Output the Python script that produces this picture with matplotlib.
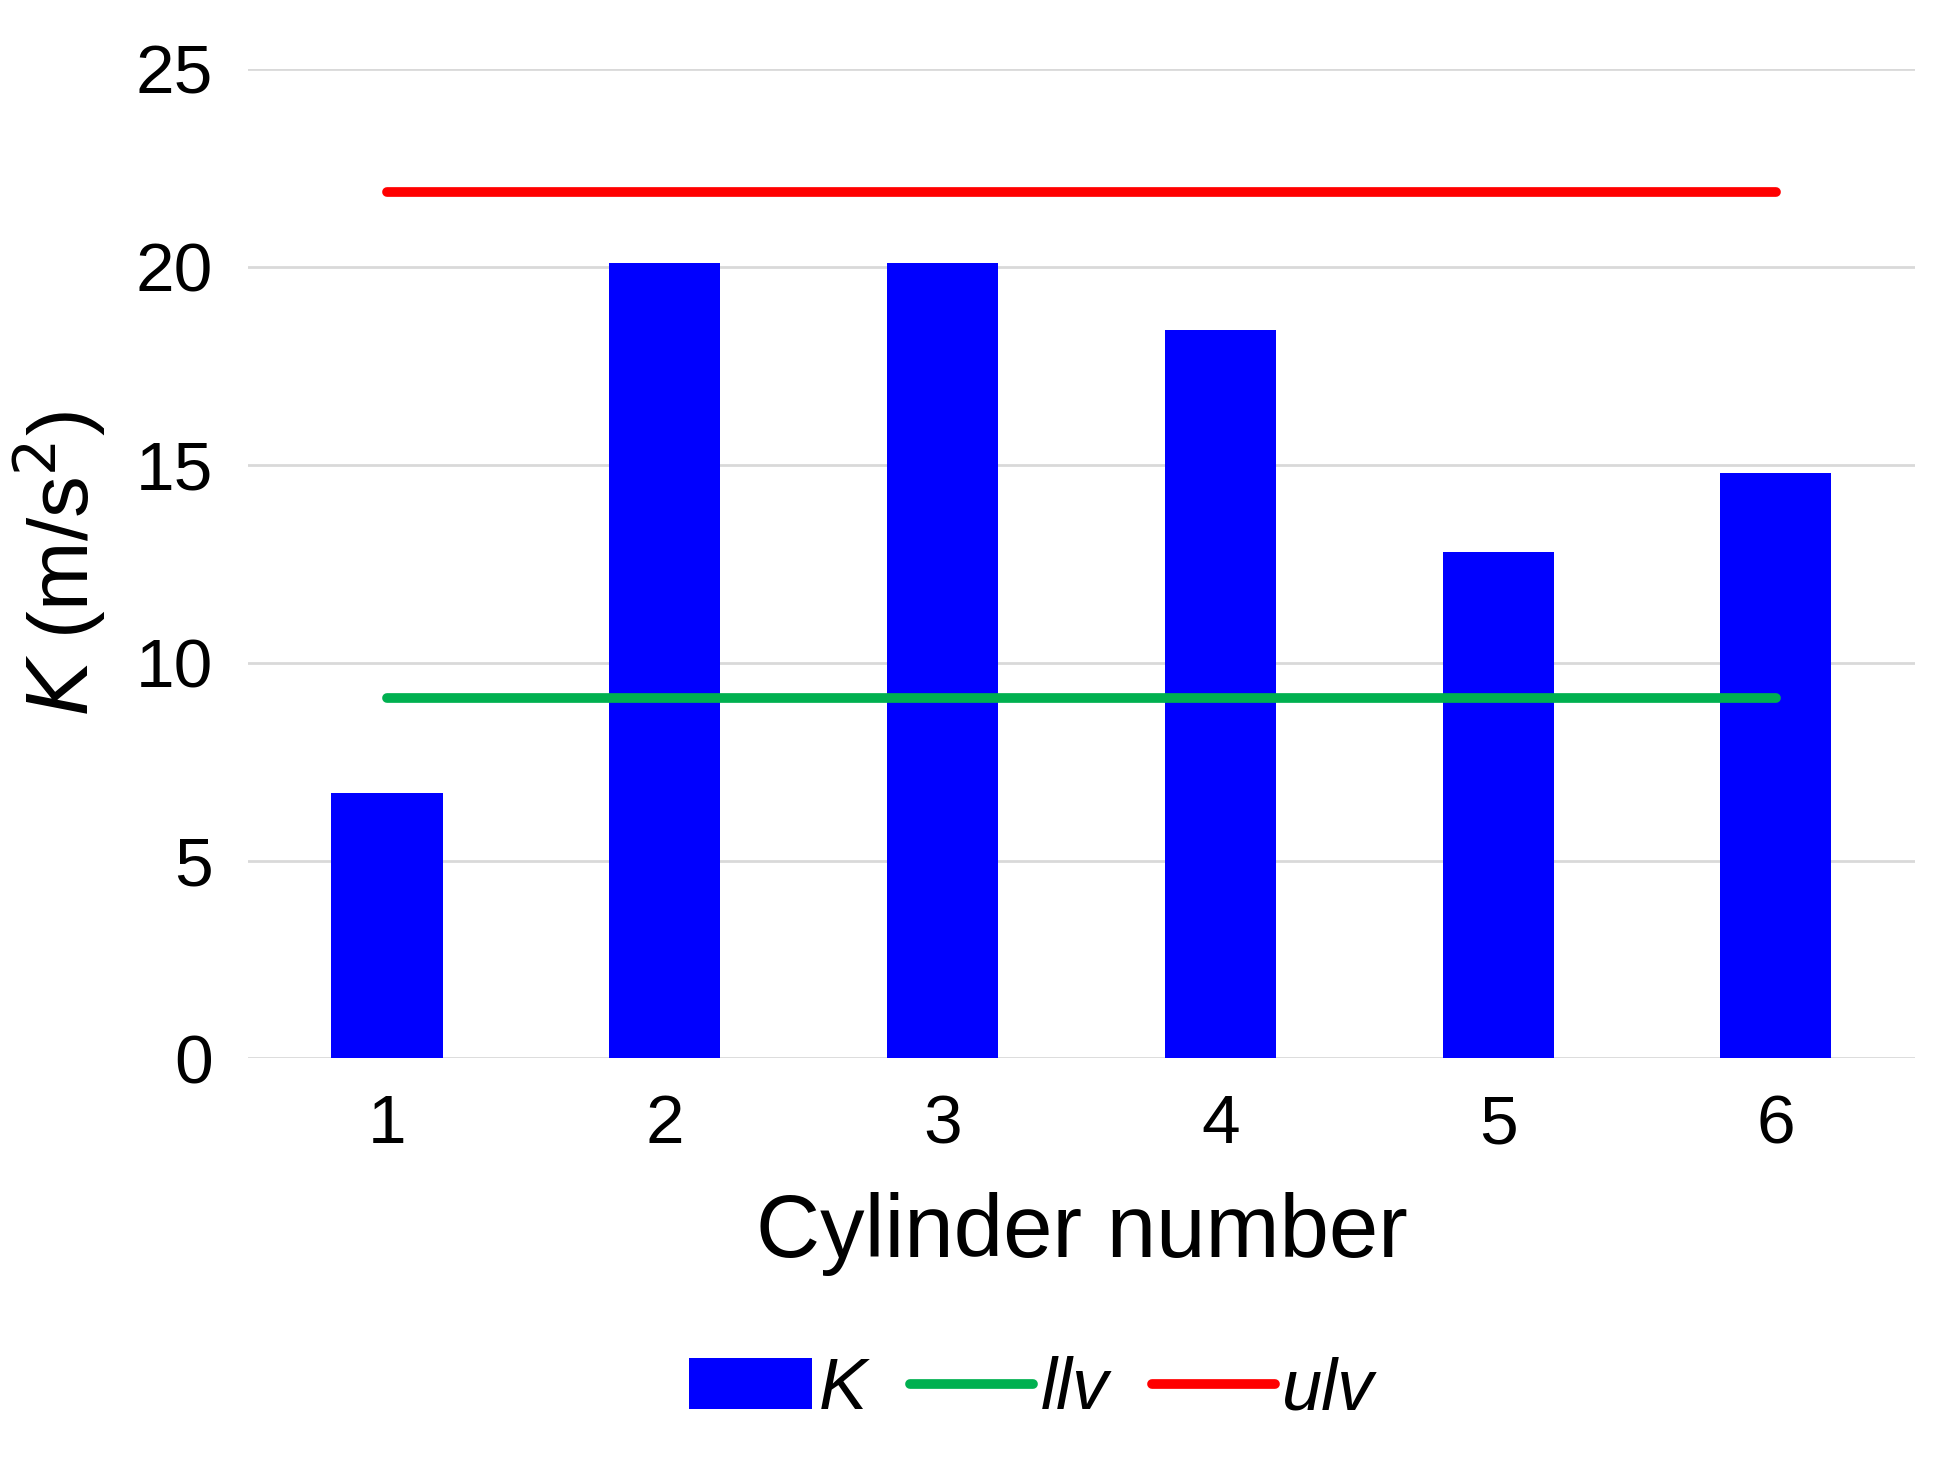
import matplotlib.pyplot as plt
from matplotlib.ticker import MultipleLocator

plt.rcParams["font.family"] = ["Liberation Sans Narrow", "Liberation Sans", "DejaVu Sans"]

cylinders = [1, 2, 3, 4, 5, 6]
k_values = [6.7, 20.1, 20.1, 18.4, 12.8, 14.8]
llv = [9.1] * 6
ulv = [21.9] * 6

fig = plt.figure(figsize=(19.38, 14.64), dpi=100)
ax = fig.add_axes([0.128, 0.277, 0.86, 0.676])

bars = ax.bar(cylinders, k_values, width=0.4, color="#0000ff", label="K", zorder=2)
l1, = ax.plot(cylinders, llv, color="#00b050", lw=7, solid_capstyle="round", label="llv", zorder=3)
l2, = ax.plot(cylinders, ulv, color="#ff0000", lw=7, solid_capstyle="round", label="ulv", zorder=3)

ax.set_xlim(0.5, 6.5)
ax.set_ylim(0, 25)
ax.yaxis.set_major_locator(MultipleLocator(5))
ax.set_xticks(cylinders)
ax.grid(axis="y", color="#d9d9d9", lw=2, zorder=0)
for s in ax.spines.values():
    s.set_visible(False)
ax.tick_params(length=0, labelsize=50, pad=25)

ax.set_xlabel("Cylinder number", fontsize=64, labelpad=25)
ax.set_ylabel(r"$K$ (m/s$^2$)", fontsize=60, labelpad=20)

leg = ax.legend([bars, l1, l2], ["K", "llv", "ulv"], loc="upper center",
                bbox_to_anchor=(0.47, -0.235), ncol=3, frameon=False,
                fontsize=52, handlelength=1.7, handletextpad=0.1, columnspacing=0.6)
for t in leg.get_texts():
    t.set_style("italic")

fig.savefig("out.png")
